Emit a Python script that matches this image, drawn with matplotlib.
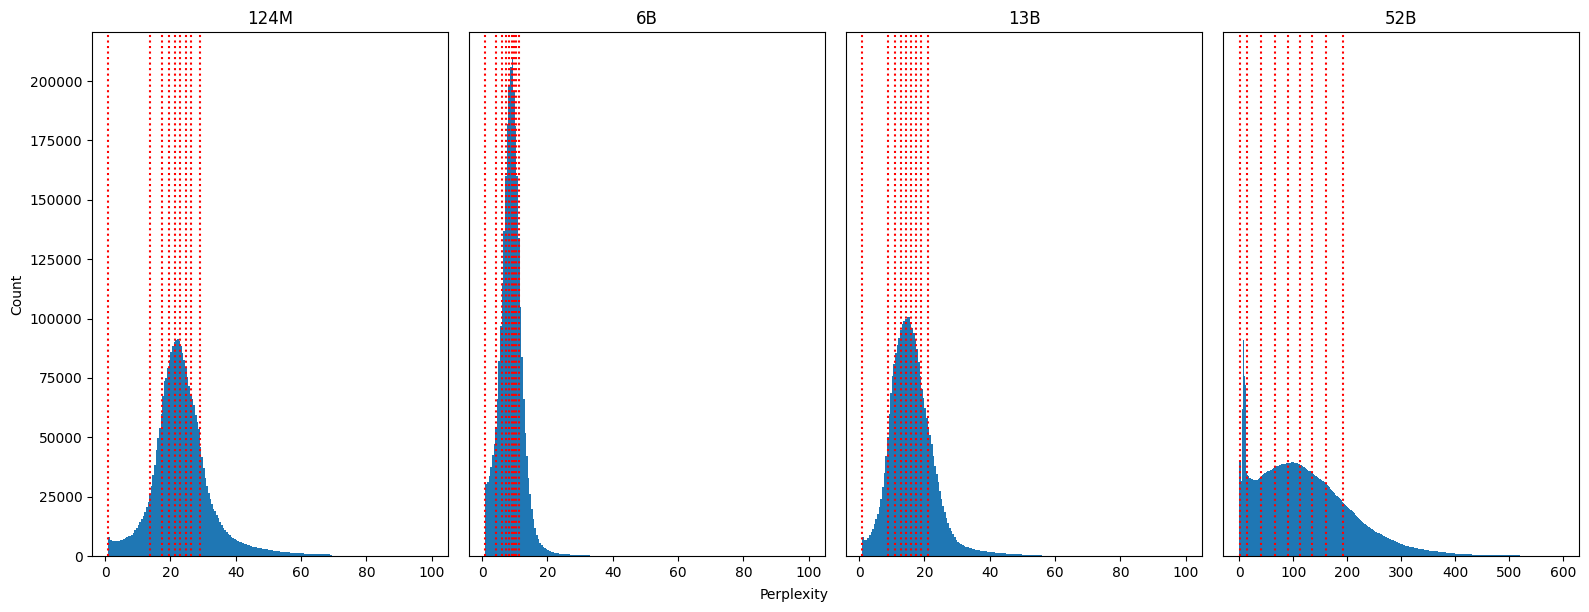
import numpy as np
import matplotlib
matplotlib.use('Agg')
import matplotlib.pyplot as plt

models = ['124M', '6B', '13B', '52B']

# histogram counts per bin, bins start at bin_start and are bin_width wide
bin_start = [1.0, 1.0, 1.0, 0.0]
bin_width = [0.5, 0.5, 0.5, 2.0]

counts_124m = [
    7800, 6600, 6300, 6300, 6400, 6400, 6500, 6700, 6900, 7200,
    7500, 7900, 8300, 8600, 9000, 9800, 10800, 11900, 13000, 14200,
    15600, 17000, 18700, 20500, 22800, 25500, 29500, 34000, 38500, 44500,
    49500, 54000, 60000, 67500, 73500, 75000, 79000, 82500, 86000, 88500,
    90000, 90800, 91300, 90500, 88500, 85500, 82500, 79500, 75500, 71500,
    68000, 66000, 63500, 59500, 56500, 53500, 46000, 41500, 37000, 33000,
    29500, 26500, 24000, 22000, 20000, 18800, 17300, 16000, 14300, 13000,
    11700, 10800, 10000, 9300, 8700, 8200, 7700, 7200, 6800, 6400,
    6000, 5700, 5400, 5200, 4900, 4700, 4500, 4300, 4000, 3800,
    3650, 3500, 3350, 3200, 3050, 2950, 2850, 2750, 2600, 2500,
    2400, 2300, 2200, 2100, 2000, 1850, 1750, 1700, 1650, 1600,
    1500, 1450, 1400, 1350, 1300, 1250, 1200, 1150, 1100, 1080,
    1050, 1000, 980, 950, 920, 900, 870, 850, 820, 800,
    780, 750, 720, 700, 680, 650, 500, 150,
    120, 110, 100, 95, 90, 85, 80, 78, 75, 72,
    70, 68, 65, 62, 60, 58, 56, 54, 52, 50,
    48, 46, 44, 42, 40, 39, 38, 37, 36, 35,
    34, 33, 32, 31, 30, 29, 28, 27, 26, 25,
    24, 23, 22, 21, 20, 20, 19, 19, 18, 18,
    17, 17, 16, 16, 15, 15, 14, 14, 13, 13,
]

counts_6b = [
    30500, 31000, 33500, 37500, 42500, 47000, 54000, 66000, 82000, 97000,
    115000, 137000, 160000, 182000, 198000, 206000, 210000, 196000, 181000, 160000,
    134000, 105000, 84000, 66000, 52000, 42000, 33000, 26000, 20000, 15500,
    11800, 9000, 7000, 5600, 4600, 3900, 3300, 2900, 2400, 2000,
    1750, 1550, 1400, 1250, 1100, 1000, 850,
    750, 720, 700, 690, 680,
    480, 450, 440, 430, 430, 420, 420, 410, 400, 400, 390,
    250,
    180, 150, 130, 120, 110, 100, 95, 90, 86, 82,
    78, 75, 72, 69, 66, 63, 61, 59, 57, 55,
    53, 51, 49, 47, 46, 45, 44, 43, 42, 41,
    40, 39, 38, 37, 36, 35, 34, 33, 32, 31,
    30, 29, 29, 28, 28, 27, 27, 26, 26, 25,
    25, 24, 24, 23, 23, 22, 22, 21, 21, 20,
    20, 19, 19, 18, 18, 17, 17, 16, 16, 15,
    15, 15, 14, 14, 14, 13, 13, 13, 12, 12,
    12, 12, 11, 11, 11, 11, 10, 10, 10, 10,
    10, 9, 9, 9, 9, 9, 8, 8, 8, 8,
    8, 8, 7, 7, 7, 7, 7, 7, 6, 6,
    6, 6, 6, 6, 6, 5, 5, 5, 5, 5,
    5, 5, 5, 4, 4, 4, 4, 4, 4, 4,
    4, 4, 3, 3,
]

counts_13b = [
    8200, 6800, 6900, 7500, 8800, 10000, 11500, 13500, 15500, 17800,
    20500, 24000, 29000, 35000, 42000, 50000, 60000, 68500, 76000, 81000,
    85500, 89000, 92000, 95000, 97500, 99000, 100000, 100600, 100800, 98500,
    96000, 94000, 91500, 87000, 81500, 76000, 70500, 66500, 62500, 58000,
    54500, 51000, 47000, 42000, 38000, 34500, 31000, 27500, 24000, 21000,
    18500, 16000, 14000, 12000, 10500, 9200, 7800, 6900, 6100, 5500,
    5000, 4600, 4300, 4000, 3700, 3450, 3200, 3000, 2800, 2650,
    2500, 2350, 2200, 2100, 2000, 1900, 1800, 1750, 1700, 1600,
    1500, 1400, 1350, 1300, 1250, 1200, 1150, 1100, 1050, 1000,
    950, 900, 850, 800, 760, 720, 690, 660, 630, 600,
    570, 540, 510, 490, 470, 450, 440, 430, 420, 410,
    150,
    100, 90, 80, 75, 70, 66, 62, 58, 55, 52,
    50, 48, 46, 44, 42, 40, 38, 37, 36, 35,
    34, 33, 32, 31, 30, 29, 28, 27, 26, 25,
    24, 24, 23, 23, 22, 22, 21, 21, 20, 20,
    19, 19, 18, 18, 17, 17, 16, 16, 15, 15,
    14, 14, 14, 13, 13, 13, 12, 12, 12, 11,
    11, 11, 10, 10, 10, 10, 9, 9, 9, 9,
    8, 8, 8, 8, 7, 7, 7, 7, 6, 6,
    6, 6, 5, 5, 5, 5, 4,
]

counts_52b = [
    40000, 31500, 62000, 91000, 75600, 72000, 36000, 34000, 33500, 33000,
    32800, 32500, 32300, 32200, 32000, 32000, 32100, 32300, 32700, 33100,
    33500, 34000, 34400, 34800, 35100, 35400, 35700, 35900, 36100, 36400,
    36800, 37100, 37300, 37500, 37700, 37900, 38100, 38300, 38500, 38600,
    38700, 38800, 38900, 39000, 39100, 39200, 39200, 39300, 39400, 39400,
    39400, 39300, 39200, 39100, 38900, 38700, 38500, 38200, 37900, 37600,
    37300, 36900, 36600, 36300, 36000, 35700, 35300, 34900, 34600, 34200,
    33900, 33500, 33200, 32900, 32600, 32300, 31900, 31600, 31200, 30800,
    30400, 29900, 29400, 28900, 28400, 27900, 27400, 26900, 26400, 25900,
    25400, 24900, 24400, 23900, 23400, 22900, 22400, 21900, 21400, 21000,
    20500, 20100, 19700, 19300, 18800, 18400, 17900, 17400, 16900, 16500,
    16100, 15700, 15300, 14900, 14500, 14000, 13600, 13200, 12800, 12400,
    12100, 11800, 11500, 11200, 10900, 10600, 10300, 10000, 9800, 9600,
    9400, 9200, 8900, 8600, 8300, 8000, 7800, 7600, 7400, 7200,
    7000, 6800, 6600, 6400, 6200, 6000, 5800, 5600, 5400, 5200,
    5000, 4850, 4700, 4550, 4400, 4250, 4100, 4000, 3900, 3800,
    3700, 3600, 3500, 3400, 3300, 3200, 3100, 3000, 2900, 2800,
    2750, 2700, 2600, 2500, 2450, 2400, 2300, 2250, 2200, 2100,
    2050, 2000, 1950, 1900, 1850, 1800, 1750, 1700, 1650, 1600,
    1550, 1500, 1450, 1400, 1350, 1300, 1250, 1200, 1150, 1100,
    1050, 1000, 980, 960, 940, 920, 900, 880, 860, 840,
    800, 770, 740, 710, 680, 650, 630, 610, 590, 570,
    550, 540, 530, 520, 510, 500, 480, 460, 440, 430,
    420, 410, 400, 390, 380, 370, 360, 350, 340, 330,
    320, 315, 310, 305, 300, 295, 290, 285, 280, 275,
    270, 265, 260, 255, 250, 245, 240, 235, 230, 225,
    60, 55, 50, 48, 46, 44, 42, 40, 38, 36,
    34, 32, 30, 28, 26, 24, 22, 20, 18, 16,
    15, 14, 13, 12, 11, 10, 9, 8, 8, 7,
    7, 6, 6, 5, 5, 4, 4, 3, 3, 2,
]

# quantile markers (red dotted lines)
quantiles_124m = [1.0, 13.9, 17.3, 19.5, 21.3, 22.8, 24.7, 26.4, 29.0]
quantiles_6b = [1.0, 4.4, 6.2, 7.4, 8.2, 9.0, 9.7, 10.5, 11.2]
quantiles_13b = [1.0, 8.8, 10.9, 12.8, 14.3, 15.8, 17.3, 19.0, 21.2]
quantiles_52b = [1.0, 13.6, 39.5, 65.4, 89.5, 112.3, 134.6, 160.5, 192.0]

all_counts = [counts_124m, counts_6b, counts_13b, counts_52b]
all_quantiles = [quantiles_124m, quantiles_6b, quantiles_13b, quantiles_52b]

fig, axes = plt.subplots(1, 4, figsize=(15.89, 6.12), dpi=100, sharey=True)
fig.subplots_adjust(left=0.058, right=0.9937, top=0.947, bottom=0.0915, wspace=0.06)

for i, ax in enumerate(axes):
    counts = np.array(all_counts[i], dtype=float)
    edges = bin_start[i] + bin_width[i] * np.arange(len(counts) + 1)
    ax.hist(edges[:-1], bins=edges, weights=counts)
    for q in all_quantiles[i]:
        ax.axvline(q, color='red', linestyle=':')
    ax.set_title(models[i])
    if i > 0:
        ax.tick_params(left=False)

axes[0].set_ylabel('Count')
fig.text(0.5, 0.028, 'Perplexity', ha='center', va='center')
fig.savefig('out.png', dpi=100)
